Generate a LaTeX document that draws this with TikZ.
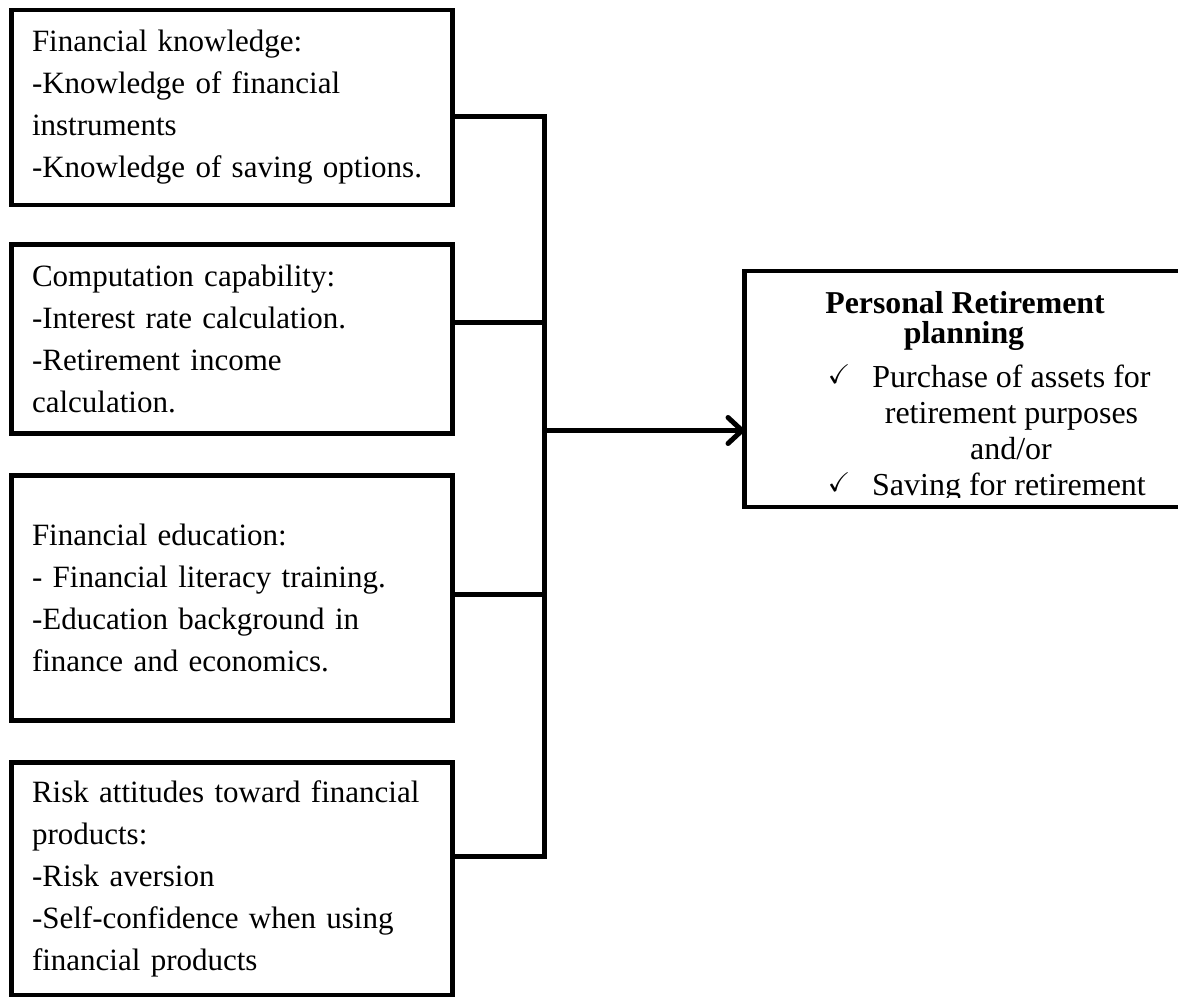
\documentclass[tikz,border=0pt]{standalone}
\usepackage{amssymb}
\usepackage{fontspec}
\setmainfont{Liberation Serif}
\usetikzlibrary{arrows.meta,positioning}

\tikzset{
  factor/.style={draw, line width=4.5pt, outer sep=0pt, anchor=north west,
    minimum width=441pt, text width=400pt, align=left, inner xsep=0pt,
    font=\fontsize{31pt}{42pt}\selectfont},
  goalbox/.style={draw, line width=4.5pt, outer sep=0pt, anchor=north west,
    minimum width=540pt, minimum height=236pt},
  goaltitle/.style={anchor=base, inner sep=0pt, font=\fontsize{31.8pt}{31pt}\selectfont\bfseries},
  goalitem/.style={anchor=base, inner sep=0pt, font=\fontsize{32pt}{37pt}\selectfont},
  tick/.style={anchor=base, inner sep=0pt, font=\fontsize{27pt}{27pt}\selectfont},
  link/.style={line width=5pt, line cap=rect},
}

\begin{document}
\begin{tikzpicture}[x=1pt, y=-1pt]
\useasboundingbox (0,0) rectangle (1178,1000);

% Factor boxes (left column)
\node[factor, minimum height=195pt] (know) at (11.5,10)
  {Financial knowledge:\\-Knowledge of financial\\instruments\\-Knowledge of saving options.};
\node[factor, minimum height=189pt] (comp) at (11.5,244.5)
  {Computation capability:\\-Interest rate calculation.\\-Retirement income\\calculation.};
\node[factor, minimum height=245pt] (educ) at (11.5,475.5)
  {Financial education:\\- Financial literacy training.\\-Education background in\\finance and economics.};
\node[factor, minimum height=232.5pt] (risk) at (11.5,762.5)
  {Risk attitudes toward financial\\products:\\-Risk aversion\\-Self-confidence when using\\financial products};

% Outcome box (cut off at the right edge)
\node[goalbox] (plan) at (744.5,271) {};
\node[goaltitle] (title1) at (965,313) {Personal Retirement};
\node[goaltitle] (title2) at (964,344) {planning};
\node[tick] (tick1) at (839,383) {$\checkmark$};
\node[goalitem] (item1) at (1011.5,387) {Purchase of assets for};
\node[goalitem] (item2) at (1011.5,423) {retirement purposes};
\node[goalitem] (item3) at (1011,459) {and/or};
\begin{scope}
  \clip (744.5,271) rectangle (1300,497);
  \node[tick] (tick2) at (839,491) {$\checkmark$};
  \node[goalitem] (item4) at (1009,495) {Saving for retirement};
\end{scope}

% Bus and connectors
\coordinate (bus) at (544.5,0);
\foreach \b/\dy in {know/-9, comp/16.5, educ/3.5, risk/22.5}
  \draw[link] ([yshift=\dy pt]\b.east) -- ([yshift=\dy pt]\b.east -| bus);
\draw[link] ([yshift=-9pt]know.east -| bus) -- ([yshift=22.5pt]risk.east -| bus);

% Arrow to outcome
\coordinate (join) at (544.5,430.5);
\draw[line width=5pt, -{Straight Barb[length=14pt, width=26pt, line cap=round, line join=round]}]
  (join) -- (join -| plan.west);
\end{tikzpicture}
\end{document}
